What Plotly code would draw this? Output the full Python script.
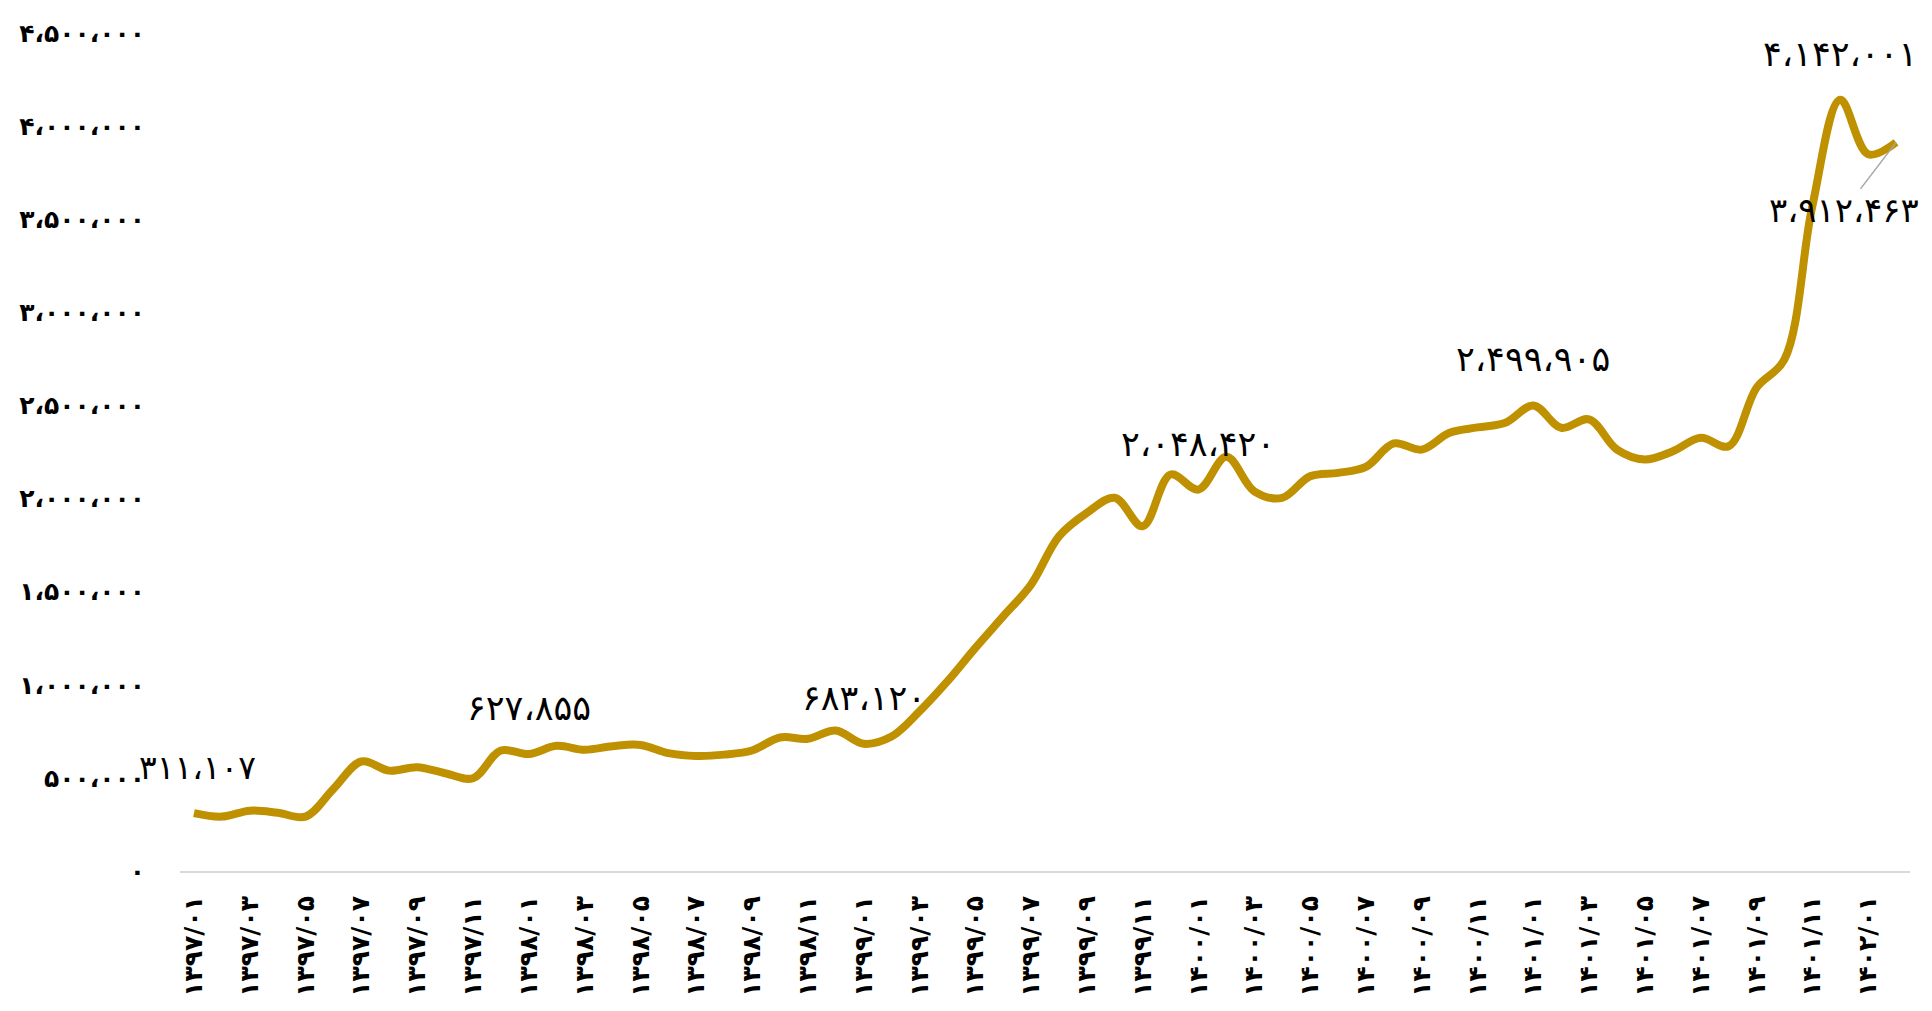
import plotly.graph_objects as go

# ---- data ----
months = [
    "۱۳۹۷/۰۱", "۱۳۹۷/۰۲", "۱۳۹۷/۰۳", "۱۳۹۷/۰۴", "۱۳۹۷/۰۵", "۱۳۹۷/۰۶",
    "۱۳۹۷/۰۷", "۱۳۹۷/۰۸", "۱۳۹۷/۰۹", "۱۳۹۷/۱۰", "۱۳۹۷/۱۱", "۱۳۹۷/۱۲",
    "۱۳۹۸/۰۱", "۱۳۹۸/۰۲", "۱۳۹۸/۰۳", "۱۳۹۸/۰۴", "۱۳۹۸/۰۵", "۱۳۹۸/۰۶",
    "۱۳۹۸/۰۷", "۱۳۹۸/۰۸", "۱۳۹۸/۰۹", "۱۳۹۸/۱۰", "۱۳۹۸/۱۱", "۱۳۹۸/۱۲",
    "۱۳۹۹/۰۱", "۱۳۹۹/۰۲", "۱۳۹۹/۰۳", "۱۳۹۹/۰۴", "۱۳۹۹/۰۵", "۱۳۹۹/۰۶",
    "۱۳۹۹/۰۷", "۱۳۹۹/۰۸", "۱۳۹۹/۰۹", "۱۳۹۹/۱۰", "۱۳۹۹/۱۱", "۱۳۹۹/۱۲",
    "۱۴۰۰/۰۱", "۱۴۰۰/۰۲", "۱۴۰۰/۰۳", "۱۴۰۰/۰۴", "۱۴۰۰/۰۵", "۱۴۰۰/۰۶",
    "۱۴۰۰/۰۷", "۱۴۰۰/۰۸", "۱۴۰۰/۰۹", "۱۴۰۰/۱۰", "۱۴۰۰/۱۱", "۱۴۰۰/۱۲",
    "۱۴۰۱/۰۱", "۱۴۰۱/۰۲", "۱۴۰۱/۰۳", "۱۴۰۱/۰۴", "۱۴۰۱/۰۵", "۱۴۰۱/۰۶",
    "۱۴۰۱/۰۷", "۱۴۰۱/۰۸", "۱۴۰۱/۰۹", "۱۴۰۱/۱۰", "۱۴۰۱/۱۱", "۱۴۰۱/۱۲",
    "۱۴۰۲/۰۱", "۱۴۰۲/۰۲",
]

values = [
    311107, 292000, 324000, 313000, 292000, 441000,
    588000, 539000, 557000, 525000, 498000, 647000,
    627855, 672000, 651000, 670000, 677000, 633000,
    618000, 625000, 647000, 717000, 710000, 754000,
    683120, 722000, 857000, 1018000, 1197000, 1367000,
    1538000, 1797000, 1923000, 2004000, 1851000, 2129000,
    2048420, 2224000, 2039000, 2004000, 2120000, 2138000,
    2170000, 2296000, 2263000, 2353000, 2382000, 2407000,
    2499905, 2380000, 2425000, 2263000, 2210000, 2254000,
    2326000, 2281000, 2595000, 2747000, 3570000, 4142001,
    3849000, 3912463,
]

# indices of points that carry a data label
labeled_idx = [0, 12, 24, 36, 48, 59]
last_idx = 61

y_tickvals = [0, 500000, 1000000, 1500000, 2000000, 2500000, 3000000, 3500000, 4000000, 4500000]
x_tickvals = months[::2]

FA_DIGITS = str.maketrans("0123456789", "۰۱۲۳۴۵۶۷۸۹")


def fa_num(v):
    return f"{v:,}".replace(",", "،").translate(FA_DIGITS)


FONT = "DejaVu Sans"
LINE_COLOR = "#BF9000"

fig = go.Figure()
fig.add_trace(go.Scatter(
    x=months, y=values, mode="lines",
    line=dict(color=LINE_COLOR, width=8, shape="spline", smoothing=1.0),
    hoverinfo="skip", showlegend=False,
))

annotations = []
for i in labeled_idx:
    annotations.append(dict(
        x=months[i], y=values[i], xref="x", yref="y",
        text=fa_num(values[i]), showarrow=False,
        yshift=46, yanchor="middle", xanchor="center",
        xshift=4 if i == 0 else 0,
        font=dict(family=FONT, size=35 if i else 33, color="#000000"),
    ))
annotations.append(dict(
    x=months[last_idx], y=values[last_idx], xref="x", yref="y",
    text=fa_num(values[last_idx]), showarrow=True,
    ax=-52, ay=68, arrowhead=0, arrowwidth=1.5, arrowcolor="#A6A6A6", standoff=0,
    font=dict(family=FONT, size=34, color="#000000"),
))

# page body has an 8px default margin; sizes below compensate for it
fig.update_layout(
    width=1916, height=995,
    margin=dict(l=172, r=14, t=25, b=132),
    paper_bgcolor="white", plot_bgcolor="white",
    showlegend=False,
    annotations=annotations,
    xaxis=dict(
        type="category", categoryorder="array", categoryarray=months,
        range=[-0.5, len(months) - 0.5],
        tickmode="array", tickvals=x_tickvals, ticktext=x_tickvals,
        tickangle=-90, automargin=False,
        tickfont=dict(family=FONT, size=25, color="#000000", weight="bold"),
        showgrid=False, zeroline=False,
        showline=True, linecolor="#D9D9D9", linewidth=2,
        ticks="", ticklabelstandoff=13,
    ),
    yaxis=dict(
        range=[0, 4500000], automargin=False,
        tickmode="array", tickvals=y_tickvals,
        ticktext=[fa_num(v) for v in y_tickvals],
        tickfont=dict(family=FONT, size=25, color="#000000", weight="bold"),
        showgrid=False, zeroline=False, showline=False,
        ticks="", ticklabelstandoff=34,
    ),
)

fig.write_html("out.html")
